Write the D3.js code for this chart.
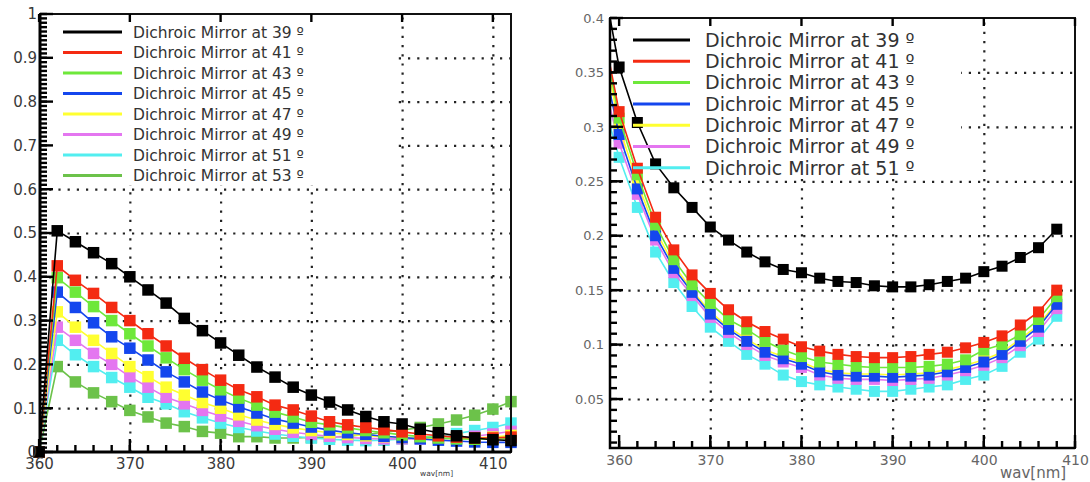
<!DOCTYPE html>
<html>
<head>
<meta charset="utf-8">
<script src="https://cdn.jsdelivr.net/npm/d3@7"></script>
<style>
  body { margin: 0; background: #fff; }
</style>
</head>
<body>
<script>
// ---------- data : left panel ----------
var leftWav = [360,362,364,366,368,370,372,374,376,378,380,382,384,386,388,390,392,394,396,398,400,402,404,406,408,410,412];
var left39 = [0,.505,.48,.455,.43,.40,.37,.34,.305,.277,.249,.221,.194,.171,.148,.13,.114,.096,.081,.069,.064,.052,.044,.037,.032,.028,.026];
var left41 = [0,.425,.392,.362,.33,.30,.27,.242,.214,.188,.164,.142,.126,.107,.096,.082,.069,.062,.056,.051,.046,.041,.037,.034,.032,.032,.034];
var left43 = [0,.398,.365,.332,.30,.27,.242,.215,.188,.164,.142,.123,.107,.091,.080,.068,.062,.055,.049,.044,.039,.035,.032,.030,.029,.029,.031];
var left45 = [0,.365,.33,.295,.263,.237,.21,.183,.16,.137,.119,.103,.089,.075,.066,.057,.05,.044,.04,.036,.033,.030,.027,.025,.023,.022,.022];
var left47 = [0,.32,.285,.255,.225,.195,.172,.148,.13,.113,.1,.085,.073,.063,.055,.049,.044,.04,.037,.035,.033,.032,.031,.031,.032,.034,.038];
var left49 = [0,.285,.255,.225,.2,.172,.148,.125,.11,.095,.082,.07,.06,.052,.045,.04,.036,.033,.031,.03,.03,.03,.031,.033,.036,.041,.047];
var left51 = [0,.255,.222,.195,.17,.148,.125,.11,.092,.078,.066,.056,.048,.041,.036,.032,.029,.027,.026,.027,.03,.033,.036,.042,.049,.056,.066];
var left53 = [0,.195,.16,.135,.115,.095,.08,.066,.058,.047,.043,.035,.035,.032,.032,.033,.034,.036,.04,.045,.05,.056,.064,.073,.084,.098,.115];
var leftNames = ["Dichroic Mirror at 39 \u00BA","Dichroic Mirror at 41 \u00BA","Dichroic Mirror at 43 \u00BA","Dichroic Mirror at 45 \u00BA",
                 "Dichroic Mirror at 47 \u00BA","Dichroic Mirror at 49 \u00BA","Dichroic Mirror at 51 \u00BA","Dichroic Mirror at 53 \u00BA"];
var leftXTicks = [360,370,380,390,400,410];
var leftYTicks = [0,0.1,0.2,0.3,0.4,0.5,0.6,0.7,0.8,0.9,1];

// ---------- data : right panel ----------
var rightWav = [358,360,362,364,366,368,370,372,374,376,378,380,382,384,386,388,390,392,394,396,398,400,402,404,406,408];
var right39 = [.445,.355,.304,.266,.244,.226,.208,.196,.185,.176,.169,.166,.161,.158,.157,.154,.153,.153,.155,.158,.161,.167,.172,.180,.189,.206];
var right41 = [.40,.314,.262,.217,.187,.164,.147,.132,.121,.112,.105,.098,.094,.091,.089,.088,.088,.089,.091,.093,.097,.102,.108,.118,.130,.150];
var right43 = [.395,.308,.256,.21,.178,.155,.138,.123,.114,.103,.095,.089,.084,.082,.080,.079,.079,.079,.080,.082,.086,.095,.1,.109,.123,.144];
var right45 = [.37,.293,.243,.2,.17,.148,.128,.114,.103,.093,.087,.082,.075,.072,.071,.071,.070,.071,.072,.075,.079,.084,.091,.103,.116,.137];
var right47 = [.39,.300,.249,.205,.173,.150,.130,.116,.105,.095,.089,.084,.077,.074,.073,.073,.072,.073,.074,.077,.081,.086,.093,.105,.118,.139];
var right49 = [.35,.285,.238,.196,.166,.145,.125,.111,.1,.09,.084,.079,.072,.069,.068,.068,.067,.068,.069,.072,.076,.081,.088,.099,.112,.133];
var right51 = [.33,.272,.226,.185,.157,.135,.116,.103,.091,.082,.072,.066,.063,.061,.059,.057,.057,.059,.061,.063,.068,.072,.08,.093,.105,.126];
var rightNames = leftNames.slice(0, 7);
var rightXTicks = [360,370,380,390,400,410];
var rightYTicks = [0.05,0.1,0.15,0.2,0.25,0.3,0.35,0.4];

var colors = ["#000000","#f42a12","#6ee83a","#1446ee","#ffff30","#e476f0","#52eef0","#6cc24a"];

var svg = d3.select("body").append("svg").attr("width", 1090).attr("height", 482);

function drawPanel(p) {
    var b = p.box;
    var w = b.right - b.left, h = b.bottom - b.top;
    var x = d3.scaleLinear().domain(p.xDomain).range([b.left, b.right]);
    var y = d3.scaleLinear().domain(p.yDomain).range([b.bottom, b.top]);
    var g = svg.append("g").attr("class", p.id);

    g.append("clipPath").attr("id", p.id + "-clip")
        .append("rect").attr("x", b.left).attr("y", b.top).attr("width", w).attr("height", h);

    // dotted grid
    var gx = g.append("g").attr("transform", "translate(0," + b.bottom + ")")
        .call(d3.axisBottom(x).tickValues(p.xGrid).tickSize(-h).tickFormat(""));
    var gy = g.append("g").attr("transform", "translate(" + b.left + ",0)")
        .call(d3.axisLeft(y).tickValues(p.yGrid).tickSize(-w).tickFormat(""));
    [gx, gy].forEach(a => {
        a.select(".domain").remove();
        a.selectAll("line").attr("stroke", "#222").attr("stroke-width", 2.2).attr("stroke-dasharray", "2.2,7");
    });

    // legend box hides grid behind it
    g.append("rect").attr("x", b.left + 1).attr("y", b.top + 1)
        .attr("width", p.legend.boxW).attr("height", p.legend.boxH).attr("fill", "#fff");

    // data
    var plot = g.append("g").attr("clip-path", p.clip ? "url(#" + p.id + "-clip)" : null);
    var line = d3.line().x(d => x(d[0])).y(d => y(d[1]));
    p.order.forEach(function (k) {
        var pts = p.series[k].map((v, i) => [p.wav[i], v]);
        plot.append("path").datum(pts)
            .attr("fill", "none").attr("stroke", colors[k]).attr("stroke-width", 1.6)
            .attr("d", line);
        plot.selectAll(null).data(pts).enter().append("rect")
            .attr("x", d => x(d[0]) - p.mk / 2).attr("y", d => y(d[1]) - p.mk / 2)
            .attr("width", p.mk).attr("height", p.mk)
            .attr("fill", colors[k]);
    });

    // legend entries
    var lg = g.append("g");
    p.names.forEach(function (name, i) {
        var ly = p.legend.y0 + i * p.legend.dy;
        lg.append("line").attr("x1", p.legend.x1).attr("x2", p.legend.x2)
            .attr("y1", ly).attr("y2", ly)
            .attr("stroke", colors[i]).attr("stroke-width", 3);
        lg.append("text").attr("x", p.legend.tx).attr("y", ly).attr("dy", "0.36em")
            .style("font", p.legend.font).attr("fill", "#333").text(name);
    });

    // frame
    g.append("rect").attr("x", b.left).attr("y", b.top).attr("width", w).attr("height", h)
        .attr("fill", "none").attr("stroke", "#111").attr("stroke-width", 2);
    g.append("path").attr("d", "M" + b.left + "," + b.top + "V" + b.bottom + "H" + b.right)
        .attr("fill", "none").attr("stroke", "#000").attr("stroke-width", p.axisW);

    // ticks inside the frame, drawn straight from the scales
    var tk = g.append("g").attr("stroke", "#000").attr("stroke-width", 2.4);
    tk.selectAll(null).data(p.yMinor).enter().append("line")
        .attr("x1", b.left).attr("x2", b.left + 7).attr("y1", d => y(d)).attr("y2", d => y(d));
    tk.selectAll(null).data(p.yTicks).enter().append("line")
        .attr("x1", b.left).attr("x2", b.left + 13).attr("y1", d => y(d)).attr("y2", d => y(d));
    tk.selectAll(null).data(p.xMinor).enter().append("line")
        .attr("y1", b.bottom).attr("y2", b.bottom - 7).attr("x1", d => x(d)).attr("x2", d => x(d));
    tk.selectAll(null).data(p.xTicks).enter().append("line")
        .attr("y1", b.bottom).attr("y2", b.bottom - 13).attr("x1", d => x(d)).attr("x2", d => x(d));
    tk.selectAll(null).data(p.xTicks).enter().append("line")
        .attr("y1", b.top).attr("y2", b.top + 8).attr("x1", d => x(d)).attr("x2", d => x(d));

    // tick labels
    var ya = g.append("g").attr("transform", "translate(" + b.left + ",0)")
        .call(d3.axisLeft(y).tickValues(p.yTicks).tickFormat(d3.format("")).tickSize(0).tickPadding(p.yPad));
    ya.select(".domain").remove();
    ya.selectAll("text").style("font", p.yFont).attr("fill", p.labelColor);
    var xa = g.append("g").attr("transform", "translate(0," + b.bottom + ")")
        .call(d3.axisBottom(x).tickValues(p.xTicks).tickFormat(d3.format("d")).tickSize(0).tickPadding(p.xPad));
    xa.select(".domain").remove();
    xa.selectAll("text").style("font", p.xFont).attr("fill", p.labelColor);

    g.append("text").attr("x", p.title.x).attr("y", p.title.y)
        .style("font", p.title.font).attr("fill", p.labelColor).text("wav[nm]");
}

drawPanel({
    id: "left",
    box: { left: 40, right: 511, top: 14, bottom: 452 },
    xDomain: [360.1, 412], yDomain: [0, 1],
    wav: leftWav,
    series: [left39, left41, left43, left45, left47, left49, left51, left53],
    names: leftNames,
    order: [7, 6, 5, 4, 3, 2, 1, 0],
    mk: 11.5, clip: false, axisW: 3,
    xGrid: [370, 380, 390, 400, 410], yGrid: [0.1,0.2,0.3,0.4,0.5,0.6,0.7,0.8,0.9],
    xTicks: leftXTicks, yTicks: leftYTicks,
    xMinor: d3.range(362, 413, 2), yMinor: d3.range(0, 1.0001, 0.01),
    yPad: 3, xPad: 6,
    yFont: "15px 'DejaVu Sans'", xFont: "15px 'DejaVu Sans'", labelColor: "#3a3a3a",
    legend: { boxW: 356, boxH: 170, x1: 63, x2: 122, tx: 133, y0: 32, dy: 20.5, font: "15.5px 'DejaVu Sans'" },
    title: { x: 420, y: 476, font: "7.5px 'DejaVu Sans'" }
});

drawPanel({
    id: "right",
    box: { left: 610, right: 1075, top: 18, bottom: 448 },
    xDomain: [359, 410], yDomain: [0.005, 0.4],
    wav: rightWav,
    series: [right39, right41, right43, right45, right47, right49, right51],
    names: rightNames,
    order: [6, 5, 4, 3, 2, 1, 0],
    mk: 11, clip: true, axisW: 2.5,
    xGrid: [370, 380, 390, 400], yGrid: [0.05,0.1,0.15,0.2,0.25,0.3,0.35],
    xTicks: rightXTicks, yTicks: rightYTicks,
    xMinor: d3.range(360, 410.1, 2), yMinor: d3.range(0.01, 0.4001, 0.01),
    yPad: 6, xPad: 7,
    yFont: "13px 'DejaVu Sans'", xFont: "14px 'DejaVu Sans'", labelColor: "#666",
    legend: { boxW: 350, boxH: 160, x1: 633, x2: 690, tx: 705, y0: 40, dy: 21.3, font: "19px 'DejaVu Sans'" },
    title: { x: 1000, y: 478, font: "15px 'DejaVu Sans'" }
});
</script>
</body>
</html>
